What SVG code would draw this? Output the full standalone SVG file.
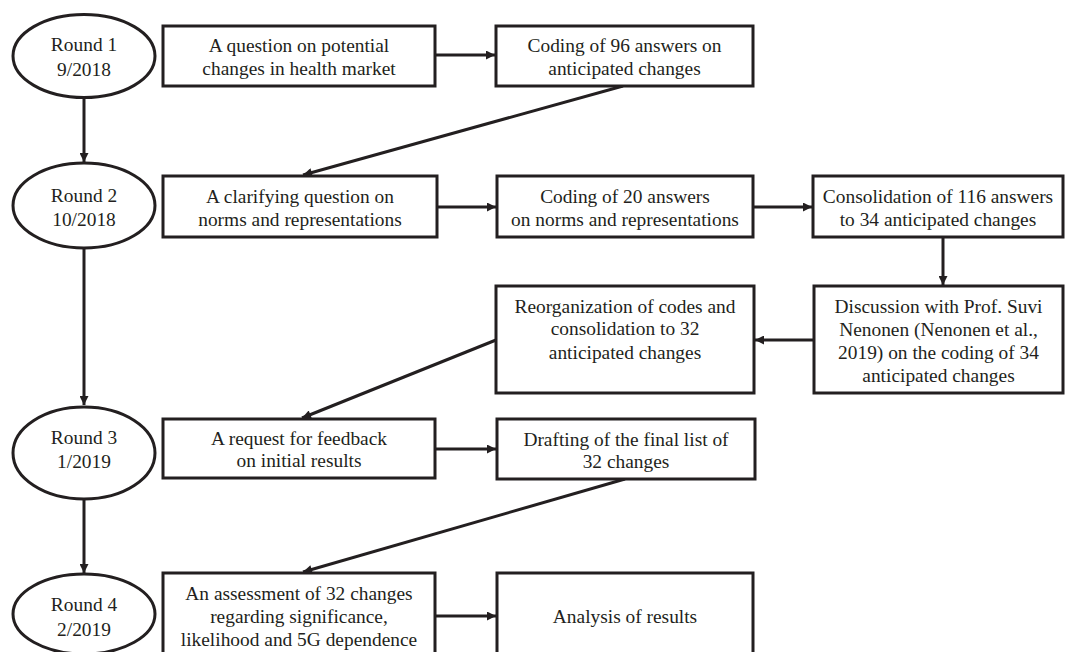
<svg xmlns="http://www.w3.org/2000/svg" width="1066" height="652" viewBox="0 0 1066 652">
<style>
.n{fill:#fff;stroke:#231f20;stroke-width:3}
.t{font-family:"Liberation Serif","Times New Roman",serif;font-size:19.4px;fill:#231f20;text-anchor:middle}
.c{fill:none;stroke:#231f20;stroke-width:3}
</style>
<defs>
<marker id="ah" viewBox="0 0 10 10" refX="10" refY="5" markerWidth="10" markerHeight="9" markerUnits="userSpaceOnUse" orient="auto">
<path d="M0,0 L10,5 L0,10 Z" fill="#231f20"/>
</marker>
</defs>
<rect width="1066" height="652" fill="#fff"/>
<g id="connectors">
<line class="c" x1="84" y1="97" x2="84" y2="162" marker-end="url(#ah)"/>
<line class="c" x1="84" y1="248" x2="84" y2="405" marker-end="url(#ah)"/>
<line class="c" x1="84" y1="499" x2="84" y2="573" marker-end="url(#ah)"/>
<line class="c" x1="435" y1="55" x2="495" y2="55" marker-end="url(#ah)"/>
<line class="c" x1="437" y1="207" x2="496" y2="207" marker-end="url(#ah)"/>
<line class="c" x1="753" y1="207" x2="812" y2="207" marker-end="url(#ah)"/>
<line class="c" x1="943" y1="237" x2="943" y2="285" marker-end="url(#ah)"/>
<line class="c" x1="814" y1="340" x2="755" y2="340" marker-end="url(#ah)"/>
<line class="c" x1="435" y1="449" x2="496" y2="449" marker-end="url(#ah)"/>
<line class="c" x1="435" y1="616" x2="496" y2="616" marker-end="url(#ah)"/>
<line class="c" x1="623" y1="86" x2="303" y2="175" marker-end="url(#ah)"/>
<line class="c" x1="496" y1="340" x2="302" y2="418" marker-end="url(#ah)"/>
<line class="c" x1="625" y1="479" x2="303" y2="572" marker-end="url(#ah)"/>
</g>
<g id="round1">
<ellipse class="n" cx="84" cy="56" rx="71" ry="41.5"/>
<text class="t" x="84" y="51">Round 1</text>
<text class="t" x="84" y="76">9/2018</text>
</g>
<g id="round2">
<ellipse class="n" cx="84" cy="205.5" rx="71" ry="42.5"/>
<text class="t" x="84" y="202">Round 2</text>
<text class="t" x="84" y="226">10/2018</text>
</g>
<g id="round3">
<ellipse class="n" cx="84" cy="453" rx="71" ry="46"/>
<text class="t" x="84" y="444">Round 3</text>
<text class="t" x="84" y="468">1/2019</text>
</g>
<g id="round4">
<ellipse class="n" cx="84" cy="614" rx="71" ry="40"/>
<text class="t" x="84" y="611">Round 4</text>
<text class="t" x="84" y="636">2/2019</text>
</g>
<g id="a1">
<rect class="n" x="163" y="26" width="272" height="60"/>
<text class="t" x="299" y="51.5">A question on potential</text>
<text class="t" x="299" y="74.5">changes in health market</text>
</g>
<g id="a2">
<rect class="n" x="496" y="26" width="257" height="60"/>
<text class="t" x="624.5" y="51.5">Coding of 96 answers on</text>
<text class="t" x="624.5" y="74.5">anticipated changes</text>
</g>
<g id="b1">
<rect class="n" x="163" y="176" width="274" height="61"/>
<text class="t" x="300" y="202.5">A clarifying question on</text>
<text class="t" x="300" y="225.5">norms and representations</text>
</g>
<g id="b2">
<rect class="n" x="497" y="176" width="256" height="61"/>
<text class="t" x="625" y="202.5">Coding of 20 answers</text>
<text class="t" x="625" y="225.5">on norms and representations</text>
</g>
<g id="b3">
<rect class="n" x="813" y="176" width="250" height="61"/>
<text class="t" x="938" y="202.5">Consolidation of 116 answers</text>
<text class="t" x="938" y="225.5">to 34 anticipated changes</text>
</g>
<g id="c1">
<rect class="n" x="814" y="286" width="249" height="107"/>
<text class="t" x="938.5" y="312.5">Discussion with Prof. Suvi</text>
<text class="t" x="938.5" y="335.5">Nenonen (Nenonen et al.,</text>
<text class="t" x="938.5" y="358.5">2019) on the coding of 34</text>
<text class="t" x="938.5" y="382">anticipated changes</text>
</g>
<g id="c2">
<rect class="n" x="496" y="286" width="258" height="107"/>
<text class="t" x="625" y="312.5">Reorganization of codes and</text>
<text class="t" x="625" y="335">consolidation to 32</text>
<text class="t" x="625" y="358.5">anticipated changes</text>
</g>
<g id="d1">
<rect class="n" x="163" y="419" width="272" height="59"/>
<text class="t" x="299" y="444.5">A request for feedback</text>
<text class="t" x="299" y="467">on initial results</text>
</g>
<g id="d2">
<rect class="n" x="497" y="419" width="258" height="60"/>
<text class="t" x="626" y="445.5">Drafting of the final list of</text>
<text class="t" x="626" y="468">32 changes</text>
</g>
<g id="e1">
<rect class="n" x="163" y="573" width="272" height="92"/>
<text class="t" x="299" y="599.5">An assessment of 32 changes</text>
<text class="t" x="299" y="622.5">regarding significance,</text>
<text class="t" x="299" y="645.5">likelihood and 5G dependence</text>
</g>
<g id="e2">
<rect class="n" x="497" y="573" width="256" height="92"/>
<text class="t" x="625" y="622.5">Analysis of results</text>
</g>
</svg>
